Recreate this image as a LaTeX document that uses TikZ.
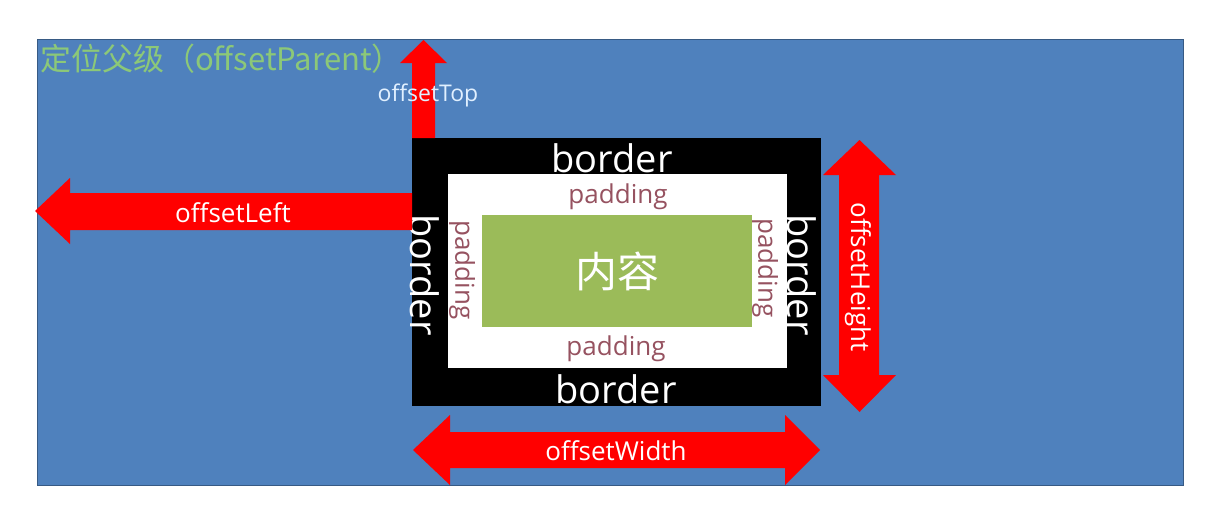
\documentclass[tikz,border=0pt]{standalone}
\usepackage{fontspec}
\setmainfont{Open Sans}
\newfontfamily\cjk{Noto Sans CJK SC}
\usetikzlibrary{positioning}
\definecolor{parentblue}{RGB}{79,129,189}
\definecolor{contentgreen}{RGB}{155,187,89}
\definecolor{padcolor}{RGB}{150,82,96}
\definecolor{titlegreen}{RGB}{140,200,120}
\definecolor{toptext}{RGB}{225,240,255}
\tikzset{
  blockarrow/.style={fill=red},
  bordertxt/.style={text=white, inner sep=0pt, font=\fontsize{38}{40}\selectfont},
  padtxt/.style={text=padcolor, inner sep=0pt, font=\fontsize{26}{28}\selectfont},
  arrowtxt/.style={text=white, inner sep=0pt, font=\fontsize{26}{28}\selectfont}
}

\begin{document}
\begin{tikzpicture}[x=1pt,y=-1pt,line cap=round]
  \useasboundingbox (0,0) rectangle (1226,530);

  \filldraw [fill=parentblue, draw=parentblue!70!black, line width=0.8] (37,39) rectangle (1183,485);
  \node [anchor=west, text=titlegreen, inner sep=0pt, font=\cjk\fontsize{31}{33}\selectfont] (title) at (40,59) {定位父级（offsetParent）};

  % the box
  \fill [black] (412,138) rectangle (821,406);
  \fill [white] (448,174) rectangle (787,368);
  \node [fill=contentgreen, minimum width=270, minimum height=112, inner sep=0pt,
    text=white, font=\cjk\fontsize{42}{44}\selectfont] (content) at (617,271) {内容};

  \node [bordertxt] (btop) at (612,158) {border};
  \node [bordertxt] (bbottom) at (616,389) {border};
  \node [bordertxt, rotate=-90] (bleft) at (425,275) {border};
  \node [bordertxt, rotate=-90] (bright) at (802,275) {border};

  \node [padtxt] (ptop) at (618,197) {padding};
  \node [padtxt] (pbottom) at (616,349) {padding};
  \node [padtxt, rotate=-90] (pleft) at (462,270) {padding};
  \node [padtxt, rotate=-90] (pright) at (765,268) {padding};

  % offsets
  \fill [blockarrow] (412,138) -- (412,63) -- (400,63) -- (423.5,40) -- (447,63) -- (435,63) -- (435,138) -- cycle;
  \node [arrowtxt, text=toptext, font=\fontsize{23}{25}\selectfont] (top) at (428,95) {offsetTop};

  \fill [blockarrow] (412,193) -- (70,193) -- (70,178) -- (35,211) -- (70,244) -- (70,230) -- (412,230) -- cycle;
  \node [arrowtxt] (left) at (233,213) {offsetLeft};

  \fill [blockarrow] (839,175) -- (823,175) -- (859.5,140) -- (896,175) -- (879,175)
    -- (879,375) -- (896,375) -- (859.5,412) -- (823,375) -- (839,375) -- cycle;
  \node [arrowtxt, rotate=-90] (height) at (858,277) {offsetHeight};

  \fill [blockarrow] (450,432) -- (450,415) -- (413,450) -- (450,485) -- (450,468)
    -- (785,468) -- (785,485) -- (820,450) -- (785,415) -- (785,432) -- cycle;
  \node [arrowtxt] (width) at (616,451) {offsetWidth};

\end{tikzpicture}
\end{document}
